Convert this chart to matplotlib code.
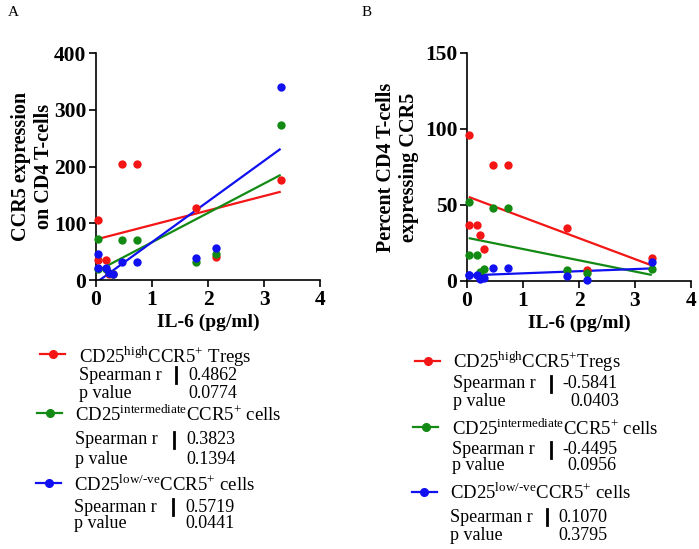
import numpy as np
import matplotlib.pyplot as plt
from matplotlib.lines import Line2D

plt.rcParams['font.family'] = ['Liberation Serif', 'DejaVu Serif']
plt.rcParams['mathtext.fontset'] = 'custom'
plt.rcParams['mathtext.rm'] = 'Liberation Serif'

# IL-6 values (same donors in both panels)
il6 = [0.04, 0.04, 0.18, 0.23, 0.30, 0.47, 0.73, 1.79, 2.15, 3.30]

# panel A : CCR5 expression (MFI)
a_high = [106, 35, 35, 10, 10, 205, 205, 127, 40, 177]
a_inter = [73, 20, 20, 12, 10, 70, 70, 32, 45, 273]
a_low = [46, 22, 22, 13, 11, 32, 32, 38, 56, 340]

# panel B : percent expressing CCR5
b_high = [96, 37, 37, 30, 21, 76, 76, 35, 7, 15]
b_inter = [52, 17, 17, 6, 8, 48, 48, 7, 5, 8]
b_low = [4, 4, 4, 1.3, 2.2, 8.8, 8.8, 3.1, 0.4, 12.8]

colors = ['#f41515', '#138a13', '#1010f0']
labels = [r'CD25$^{\mathrm{high}}$CCR5$^{+}$ Tregs',
          r'CD25$^{\mathrm{intermediate}}$CCR5$^{+}$ cells',
          r'CD25$^{\mathrm{low/\text{-}ve}}$CCR5$^{+}$ cells']
a_r = ['0.4862', '0.3823', '0.5719']
a_p = ['0.0774', '0.1394', '0.0441']
b_r = ['-0.5841', '-0.4495', '0.1070']
b_p = ['0.0403', '0.0956', '0.3795']

W, H = 699, 549
fig = plt.figure(figsize=(W / 100, H / 100), dpi=100)


def px(x, y):
    return x / W, 1 - y / H


def panel(rect, series, ymax, ystep, ylabel, lpad):
    l, t, r, b = rect
    ax = fig.add_axes([l / W, 1 - b / H, (r - l) / W, (b - t) / H])
    x = np.array(il6)
    for ys, c in zip(series, colors):
        ys = np.array(ys, dtype=float)
        k, c0 = np.polyfit(x, ys, 1)
        xx = np.array([x.min() + 0.01, x.max() - 0.02])
        ax.plot(xx, k * xx + c0, color=c, lw=1.6, zorder=2)
        ax.scatter(x, ys, s=36, color=c, zorder=3, clip_on=False, linewidths=0)
    ax.set_xlim(0, 4)
    ax.set_ylim(0, ymax)
    ax.set_xticks(range(5))
    ax.set_yticks(np.arange(0, ymax + 1, ystep))
    for s in ['top', 'right']:
        ax.spines[s].set_visible(False)
    for s in ['left', 'bottom']:
        ax.spines[s].set_linewidth(1.2)
    ax.tick_params(direction='out', length=5, width=1.2, labelsize=15.5, pad=2)
    for lab in ax.get_xticklabels() + ax.get_yticklabels():
        lab.set_fontweight('bold')
    ax.set_xlabel('IL-6 (pg/ml)', fontsize=14, fontweight='bold', labelpad=3)
    ax.set_ylabel(ylabel, fontsize=14.5, fontweight='bold', linespacing=1.2, labelpad=lpad)
    return ax


panel((96, 53, 320, 280), [a_high, a_inter, a_low], 400, 100,
      'CCR5 expression\non CD4 T-cells', 0)
panel((467, 53, 691, 281), [b_high, b_inter, b_low], 150, 50,
      'Percent CD4 T-cells\nexpressing CCR5', 4)

fig.text(*px(8, 12), 'A', fontsize=11, va='center')
fig.text(*px(362, 12), 'B', fontsize=11, va='center')


def legend_block(rows, labs, rvals, pvals):
    for (mx, my, tx, ty, sy, py, bx, vx, pvx), lab, c, rv, pv in zip(rows, labs, colors, rvals, pvals):
        fig.add_artist(Line2D([mx / W, (mx + 25) / W], [1 - my / H] * 2, color=c, lw=1.6,
                              transform=fig.transFigure))
        fig.add_artist(Line2D([(mx + 12.5) / W], [1 - my / H], marker='o', ms=5.5, color=c,
                              transform=fig.transFigure))
        fig.text(*px(tx, ty), lab, fontsize=13.5, va='center')
        fig.text(*px(tx, sy), 'Spearman r', fontsize=13, va='center')
        fig.add_artist(Line2D([bx / W] * 2, [1 - (sy - 8) / H, 1 - (sy + 8) / H], color='black',
                              lw=2, transform=fig.transFigure))
        fig.text(*px(vx, sy), rv, fontsize=13, va='center')
        fig.text(*px(tx, py), 'p value', fontsize=13, va='center')
        fig.text(*px(pvx, py), pv, fontsize=13, va='center')


legend_block([(40, 354, 79, 357, 375, 394, 176, 188, 188),
              (37, 413, 75, 415, 440, 460, 174, 186, 186),
              (36, 483, 74, 485, 507, 523, 173, 185, 185)],
             labels, a_r, a_p)
legend_block([(415, 361, 453, 362, 384, 401, 551, 562, 570),
              (413, 427, 452, 429, 450, 466, 551, 562, 567),
              (412, 492, 450, 493, 517, 535, 547, 558, 558)],
             [labels[0].replace(' Tregs', 'Tregs'), labels[1], labels[2]], b_r, b_p)

fig.savefig('out.png', dpi=100)
